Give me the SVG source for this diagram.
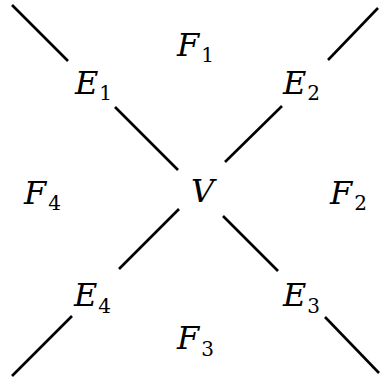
<svg xmlns="http://www.w3.org/2000/svg" width="380" height="381" viewBox="0 0 380 381">
<style>
.l{stroke:#000;stroke-width:2.6;fill:none}
text{font-family:"DejaVu Serif","Liberation Serif",serif;font-style:italic;font-size:32px;fill:#000}
.s{font-style:normal;font-size:20px}
</style>
<rect width="380" height="381" fill="#fff"/>
<g id="connectors">
<line class="l" x1="12" y1="5" x2="68" y2="61"/>
<line class="l" x1="115" y1="107" x2="178" y2="170"/>
<line class="l" x1="328" y1="60" x2="378" y2="8"/>
<line class="l" x1="282" y1="106" x2="225" y2="162"/>
<line class="l" x1="179" y1="209" x2="119" y2="269"/>
<line class="l" x1="72" y1="316" x2="12" y2="376"/>
<line class="l" x1="223" y1="216" x2="278" y2="271"/>
<line class="l" x1="325" y1="317" x2="379" y2="373"/>
</g>
<g id="V"><text x="191" y="202">V</text></g>
<g id="E1"><text x="75" y="94">E<tspan class="s" dx="1" dy="6">1</tspan></text></g>
<g id="E2"><text x="283" y="94">E<tspan class="s" dx="1" dy="6">2</tspan></text></g>
<g id="E3"><text x="283" y="306">E<tspan class="s" dx="1" dy="7">3</tspan></text></g>
<g id="E4"><text x="74" y="306">E<tspan class="s" dx="1" dy="7">4</tspan></text></g>
<g id="F1"><text x="177" y="56">F<tspan class="s" dx="2" dy="6">1</tspan></text></g>
<g id="F2"><text x="330" y="204">F<tspan class="s" dx="2" dy="6">2</tspan></text></g>
<g id="F3"><text x="177" y="349">F<tspan class="s" dx="2" dy="7">3</tspan></text></g>
<g id="F4"><text x="24" y="204">F<tspan class="s" dx="2" dy="6">4</tspan></text></g>
</svg>
